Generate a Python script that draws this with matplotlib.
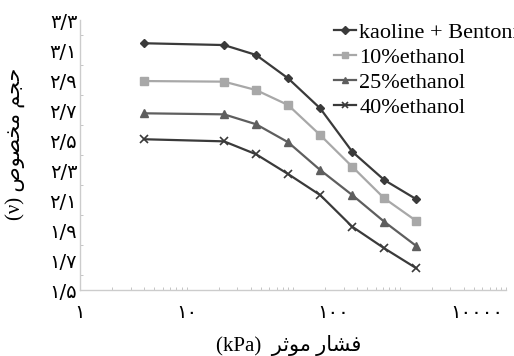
import matplotlib
matplotlib.use("Agg")
import matplotlib.pyplot as plt
from matplotlib.ticker import LogLocator, MultipleLocator, NullFormatter

# ---- data ----
pressure = [4, 22.5, 45, 90, 180, 360, 720, 1440]  # kPa
kaoline_bentonite = [3.145, 3.133, 3.067, 2.911, 2.711, 2.422, 2.233, 2.105]
ethanol_10 = [2.893, 2.889, 2.833, 2.733, 2.533, 2.322, 2.111, 1.960]
ethanol_25 = [2.678, 2.671, 2.605, 2.485, 2.300, 2.133, 1.955, 1.793]
ethanol_40 = [2.505, 2.491, 2.405, 2.273, 2.133, 1.922, 1.778, 1.645]

series_names = ["kaoline + Bentonite", "10%ethanol", "25%ethanol", "40%ethanol"]

y_ticks = [1.5, 1.7, 1.9, 2.1, 2.3, 2.5, 2.7, 2.9, 3.1, 3.3]
# x labels sit where they were pasted on the original
x_label_pos = [1, 10, 237, 5350]
x_label_txt = ["\u06f1", "\u06f1\u06f0", "\u06f1\u06f0\u06f0", "\u06f1\u06f0\u06f0\u06f0\u06f0"]

# Persian words already shaped (presentation forms) in visual order
xlabel_fa = "\ufeae\ufe9b\ufeee\ufee3 \ufead\ufe8e\ufeb8\ufed3"   # فشار موثر (visual)
ylabel_fa = "\ufeb9\ufeee\ufebc\ufea8\ufee3 \ufee2\ufea0\ufea3"   # حجم مخصوص (visual)

FA_DIGITS = str.maketrans("0123456789.", "\u06f0\u06f1\u06f2\u06f3\u06f4\u06f5\u06f6\u06f7\u06f8\u06f9/")


def fa_num(v):
    return f"{v:.1f}".translate(FA_DIGITS)


fonts = ["Liberation Serif", "DejaVu Sans"]

fig = plt.figure(figsize=(5.14, 3.56), dpi=100)
ax = fig.add_axes([80 / 514, 66 / 356, 426 / 514, 270 / 356])

styles = [
    dict(color="#3a3a3a", marker="D", markersize=4.5),
    dict(color="#a8a8a8", marker="s", markersize=6),
    dict(color="#5e5e5e", marker="^", markersize=6),
    dict(color="#3a3a3a", marker="x", markersize=5.5, markeredgewidth=1.2),
]
for vals, name, st in zip([kaoline_bentonite, ethanol_10, ethanol_25, ethanol_40],
                          series_names, styles):
    ax.plot(pressure, vals, label=name, linewidth=1.6, **st)

ax.set_xscale("log")
ax.set_xlim(1, 10000)
ax.set_ylim(1.5, 3.3)

ax.xaxis.remove_overlapping_locs = False
ax.set_xticks(x_label_pos)
ax.set_xticklabels(x_label_txt, family="DejaVu Sans", fontsize=14)
ax.xaxis.set_minor_locator(LogLocator(base=10, subs=range(1, 10), numticks=20))
ax.xaxis.set_minor_formatter(NullFormatter())
ax.tick_params(axis="x", which="major", length=0, pad=9)
ax.tick_params(axis="x", which="minor", length=2, color="#bbbbbb", direction="in")

ax.set_yticks(y_ticks)
ax.set_yticklabels([fa_num(v) for v in y_ticks], family="DejaVu Sans", fontsize=14)
ax.yaxis.set_minor_locator(MultipleLocator(0.1))
ax.tick_params(axis="y", which="major", length=0, pad=2)
ax.tick_params(axis="y", which="minor", length=2, color="#bbbbbb", direction="in")

for side in ["top", "right"]:
    ax.spines[side].set_visible(False)
for side in ["left", "bottom"]:
    ax.spines[side].set_color("#cccccc")
    ax.spines[side].set_linewidth(1.0)

ax.set_xlabel("(kPa)  " + xlabel_fa, family=fonts, fontsize=15)
ax.xaxis.set_label_coords(0.49, -0.165)
ax.set_ylabel("(\u03bd) " + ylabel_fa, family=fonts, fontsize=15)
ax.yaxis.set_label_coords(-0.13, 0.54)

ax.legend(loc="upper left", bbox_to_anchor=(0.575, 1.025), frameon=False,
          prop={"family": "Liberation Serif", "size": 16},
          handlelength=1.0, handletextpad=0.15, labelspacing=0.2,
          borderaxespad=0, markerscale=0.8)

fig.savefig("out.png", dpi=100)
